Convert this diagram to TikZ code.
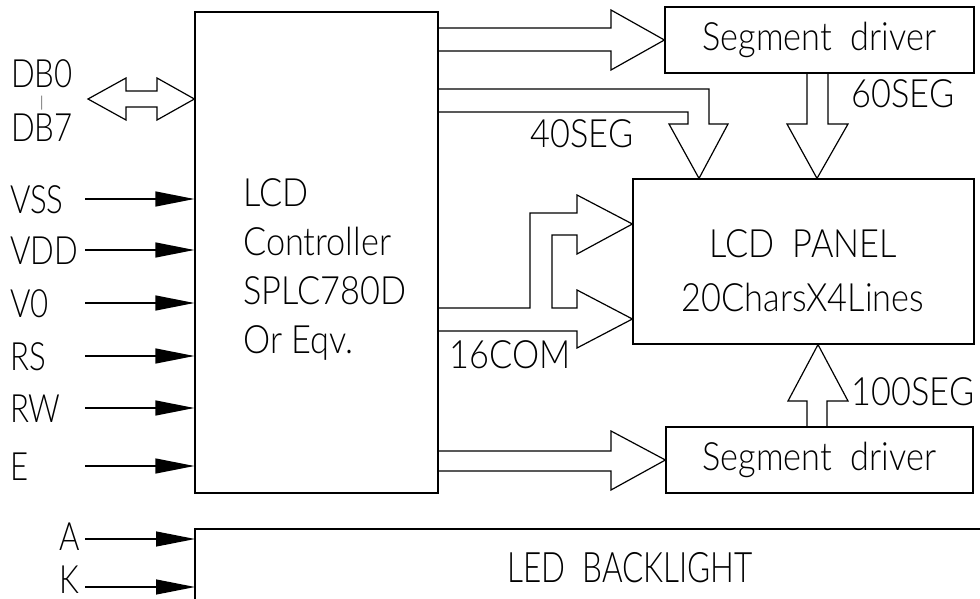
\documentclass[tikz,border=0pt]{standalone}
\usepackage{fontspec}
\setmainfont{Lato Light}[FakeStretch=0.88]
\newfontfamily\ledfont{Lato Light}[FakeStretch=0.75]
\newfontfamily\pinfont{Lato Light}[FakeStretch=0.8]
\usetikzlibrary{arrows.meta}
\tikzset{
  every picture/.style={line join=miter, >=Stealth},
  block/.style={draw, line width=1.2pt, inner sep=0pt},
  bus/.style={draw, line width=1.2pt},
  pin/.style={line width=1.2pt, -{Triangle[length=39pt,width=15pt]}},
  txt/.style={font=\fontsize{39}{49}\selectfont, inner sep=0pt},
  pintxt/.style={font=\pinfont\fontsize{39}{49}\selectfont, inner sep=0pt},
}

\begin{document}
\begin{tikzpicture}[x=1pt,y=-1pt]
\useasboundingbox (0,0) rectangle (980,599);
% blocks
\node[block, minimum width=243pt, minimum height=481pt] (ctrl) at (316.5,252.5) {};
\node[txt, align=left, anchor=west] (ctrltxt) at (243,269) {LCD\\Controller\\SPLC780D\\Or Eqv.};
\node[block, minimum width=309pt, minimum height=66pt, txt] (segtop) at (819.5,40) {Segment\ \ driver};
\node[block, minimum width=341pt, minimum height=165pt] (panel) at (803.5,261.5) {};
\node[txt, align=center, font=\fontsize{39}{54}\selectfont] (paneltxt) at (803,270.5) {LCD\ \ PANEL\\20CharsX4Lines};
\node[block, minimum width=307pt, minimum height=66pt, txt] (segbot) at (819.5,460) {Segment\ \ driver};
\coordinate (led) at (195,529);
\draw[line width=1.2pt] (led |- 0,599) -- (led) -- (980,529);
\node[txt, font=\ledfont\fontsize{42}{48}\selectfont, anchor=base] (ledtxt) at (630,582) {LED\ \ BACKLIGHT};

% control pins
\foreach \name/\y in {VSS/199,VDD/250,V0/303,RS/356,RW/408,E/466}{
  \node[pintxt, anchor=base west] (\name) at (10,{\y+14}) {\name};
  \coordinate (\name-in) at (85,\y);
  \draw[pin] (\name-in) -- (ctrl.west |- \name-in);
}
\foreach \name/\y/\b in {A/539/550,K/587/593}{
  \node[pintxt, anchor=base east] (\name) at (80,\b) {\name};
  \coordinate (\name-in) at (85,\y);
  \draw[pin] (\name-in) -- (led |- \name-in);
}

% data bus
\node[pintxt, anchor=base] (db0) at (42,88) {DB0};
\node[txt, font=\fontsize{15}{15}\selectfont] (dbto) at (42,103) {|};
\node[pintxt, anchor=base] (db7) at (42,142) {DB7};
\coordinate (db-in) at (88,99);
\draw[bus] (db-in) -- (126,78) -- (126,91) -- (157,91) -- (157,78) -- (ctrl.west |- db-in)
  -- (157,120) -- (157,107) -- (126,107) -- (126,120) -- cycle;

% buses to the drivers and the panel
\draw[bus] (ctrl.east |- 0,28) -- (611,28) -- (611,10) -- (segtop.west) -- (611,70) -- (611,51) -- (ctrl.east |- 0,51);
\draw[bus] (ctrl.east |- 0,89) -- (709,89) -- (709,124) -- (728,124) -- (panel.north -| 699,0)
  -- (669,124) -- (688,124) -- (688,112) -- (ctrl.east |- 0,112);
\draw[bus] (segtop.south -| 807,0) -- (807,124) -- (787,124) -- (panel.north -| 817,0)
  -- (848,124) -- (828,124) -- (segtop.south -| 828,0);
\draw[bus] (ctrl.east |- 0,308) -- (530,308) -- (530,213) -- (577,213) -- (577,195) -- (panel.west |- 0,224)
  -- (577,254) -- (577,235) -- (552,235) -- (552,308) -- (577,308) -- (577,290) -- (panel.west |- 0,319)
  -- (577,348) -- (577,331) -- (ctrl.east |- 0,331);
\draw[bus] (ctrl.east |- 0,451) -- (611,451) -- (611,431) -- (segbot.west) -- (611,490) -- (611,471) -- (ctrl.east |- 0,471);
\draw[bus] (segbot.north -| 807,0) -- (807,401) -- (788,401) -- (panel.south -| 818,0)
  -- (848,401) -- (827,401) -- (segbot.north -| 827,0);

% bus labels
\node[txt, anchor=base] (l40) at (582,147) {40SEG};
\node[txt, anchor=base] (l60) at (903,108) {60SEG};
\node[txt, anchor=base] (l16) at (510,368) {16COM};
\node[txt, anchor=base] (l100) at (913,405) {100SEG};
\end{tikzpicture}
\end{document}
